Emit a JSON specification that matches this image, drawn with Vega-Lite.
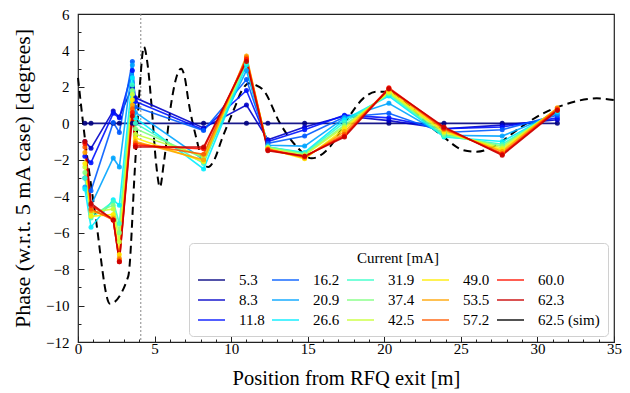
{
  "$schema": "https://vega.github.io/schema/vega-lite/v6.json",
  "width": 536,
  "height": 328,
  "autosize": "none",
  "padding": {"left": 78, "top": 14, "right": 16, "bottom": 51},
  "background": "white",
  "config": {
    "font": "Liberation Serif",
    "view": {"stroke": "#222222", "strokeWidth": 1.2},
    "axis": {"grid": false, "domain": false, "labelColor": "black", "titleColor": "black", "tickColor": "#222222", "titleFontSize": 20.5, "titleFontWeight": "normal", "labelOverlap": false, "labelFlush": false}
  },
  "datasets": {
    "sim": [
      {"c": "62.5 (sim)", "x": 0.0, "y": 2.5}, {"c": "62.5 (sim)", "x": 0.46, "y": -0.9}, {"c": "62.5 (sim)", "x": 1.11, "y": -4.9},
      {"c": "62.5 (sim)", "x": 2.09, "y": -9.9}, {"c": "62.5 (sim)", "x": 3.28, "y": -8.4}, {"c": "62.5 (sim)", "x": 3.72, "y": -2.4},
      {"c": "62.5 (sim)", "x": 4.05, "y": 2.2}, {"c": "62.5 (sim)", "x": 4.3, "y": 4.2}, {"c": "62.5 (sim)", "x": 4.55, "y": 3.2},
      {"c": "62.5 (sim)", "x": 4.81, "y": 0.9}, {"c": "62.5 (sim)", "x": 5.1, "y": -2.2}, {"c": "62.5 (sim)", "x": 5.35, "y": -3.5},
      {"c": "62.5 (sim)", "x": 5.6, "y": -2.2}, {"c": "62.5 (sim)", "x": 6.12, "y": 1.28}, {"c": "62.5 (sim)", "x": 6.45, "y": 2.6},
      {"c": "62.5 (sim)", "x": 6.73, "y": 3.0}, {"c": "62.5 (sim)", "x": 7.0, "y": 2.4}, {"c": "62.5 (sim)", "x": 7.2, "y": 1.28},
      {"c": "62.5 (sim)", "x": 7.75, "y": -0.9}, {"c": "62.5 (sim)", "x": 8.1, "y": -2.0}, {"c": "62.5 (sim)", "x": 8.51, "y": -2.4},
      {"c": "62.5 (sim)", "x": 8.9, "y": -2.0}, {"c": "62.5 (sim)", "x": 9.38, "y": -0.9}, {"c": "62.5 (sim)", "x": 10.25, "y": 0.9},
      {"c": "62.5 (sim)", "x": 10.7, "y": 1.8}, {"c": "62.5 (sim)", "x": 11.17, "y": 2.2}, {"c": "62.5 (sim)", "x": 11.6, "y": 2.1},
      {"c": "62.5 (sim)", "x": 12.1, "y": 1.83}, {"c": "62.5 (sim)", "x": 13.19, "y": 0.0}, {"c": "62.5 (sim)", "x": 14.28, "y": -1.28},
      {"c": "62.5 (sim)", "x": 15.26, "y": -1.92}, {"c": "62.5 (sim)", "x": 16.46, "y": -1.28}, {"c": "62.5 (sim)", "x": 17.55, "y": 0.18},
      {"c": "62.5 (sim)", "x": 18.63, "y": 1.37}, {"c": "62.5 (sim)", "x": 19.5, "y": 1.74}, {"c": "62.5 (sim)", "x": 20.26, "y": 1.74},
      {"c": "62.5 (sim)", "x": 21.24, "y": 1.28}, {"c": "62.5 (sim)", "x": 22.55, "y": 0.18}, {"c": "62.5 (sim)", "x": 23.85, "y": -0.73},
      {"c": "62.5 (sim)", "x": 25.16, "y": -1.47}, {"c": "62.5 (sim)", "x": 26.03, "y": -1.56}, {"c": "62.5 (sim)", "x": 27.34, "y": -1.19},
      {"c": "62.5 (sim)", "x": 28.65, "y": -0.37}, {"c": "62.5 (sim)", "x": 30.38, "y": 0.55}, {"c": "62.5 (sim)", "x": 31.69, "y": 1.0},
      {"c": "62.5 (sim)", "x": 33.87, "y": 1.37}, {"c": "62.5 (sim)", "x": 35.0, "y": 1.28}
    ],
    "meas": [
      {"c": "5.3", "x": 0.45, "y": 0}, {"c": "5.3", "x": 0.85, "y": 0}, {"c": "5.3", "x": 2.3, "y": 0}, {"c": "5.3", "x": 2.7, "y": 0}, {"c": "5.3", "x": 3.55, "y": 0}, {"c": "5.3", "x": 3.75, "y": 0}, {"c": "5.3", "x": 8.2, "y": 0}, {"c": "5.3", "x": 11.0, "y": 0}, {"c": "5.3", "x": 12.4, "y": 0}, {"c": "5.3", "x": 14.8, "y": 0}, {"c": "5.3", "x": 17.4, "y": 0}, {"c": "5.3", "x": 20.3, "y": 0}, {"c": "5.3", "x": 23.9, "y": 0}, {"c": "5.3", "x": 27.7, "y": 0}, {"c": "5.3", "x": 31.3, "y": 0},
      {"c": "8.3", "x": 0.45, "y": -1.0}, {"c": "8.3", "x": 0.85, "y": -1.37}, {"c": "8.3", "x": 2.3, "y": 0.68}, {"c": "8.3", "x": 2.7, "y": 0.35}, {"c": "8.3", "x": 3.55, "y": 2.0}, {"c": "8.3", "x": 3.75, "y": 1.4}, {"c": "8.3", "x": 8.2, "y": -0.25}, {"c": "8.3", "x": 11.0, "y": 1.0}, {"c": "8.3", "x": 12.4, "y": -0.9}, {"c": "8.3", "x": 14.8, "y": -0.2}, {"c": "8.3", "x": 17.4, "y": 0.4}, {"c": "8.3", "x": 20.3, "y": 0.15}, {"c": "8.3", "x": 23.9, "y": -0.3}, {"c": "8.3", "x": 27.7, "y": -0.1}, {"c": "8.3", "x": 31.3, "y": 0.2},
      {"c": "11.8", "x": 0.45, "y": -1.8}, {"c": "11.8", "x": 0.85, "y": -2.16}, {"c": "11.8", "x": 2.3, "y": 0.55}, {"c": "11.8", "x": 2.7, "y": 0.3}, {"c": "11.8", "x": 3.55, "y": 2.9}, {"c": "11.8", "x": 3.75, "y": 1.2}, {"c": "11.8", "x": 8.2, "y": -0.35}, {"c": "11.8", "x": 11.0, "y": 1.8}, {"c": "11.8", "x": 12.4, "y": -1.0}, {"c": "11.8", "x": 14.8, "y": -0.35}, {"c": "11.8", "x": 17.4, "y": 0.45}, {"c": "11.8", "x": 20.3, "y": 0.3}, {"c": "11.8", "x": 23.9, "y": -0.3}, {"c": "11.8", "x": 27.7, "y": -0.2}, {"c": "11.8", "x": 31.3, "y": 0.3},
      {"c": "16.2", "x": 0.45, "y": -3.0}, {"c": "16.2", "x": 0.85, "y": -3.7}, {"c": "16.2", "x": 2.3, "y": 0.05}, {"c": "16.2", "x": 2.7, "y": -0.5}, {"c": "16.2", "x": 3.55, "y": 3.4}, {"c": "16.2", "x": 3.75, "y": 0.9}, {"c": "16.2", "x": 8.2, "y": -0.4}, {"c": "16.2", "x": 11.0, "y": 2.4}, {"c": "16.2", "x": 12.4, "y": -1.1}, {"c": "16.2", "x": 14.8, "y": -0.7}, {"c": "16.2", "x": 17.4, "y": 0.35}, {"c": "16.2", "x": 20.3, "y": 0.55}, {"c": "16.2", "x": 23.9, "y": -0.5}, {"c": "16.2", "x": 27.7, "y": -0.35}, {"c": "16.2", "x": 31.3, "y": 0.45},
      {"c": "20.9", "x": 0.45, "y": -3.5}, {"c": "20.9", "x": 0.85, "y": -4.5}, {"c": "20.9", "x": 2.3, "y": -1.9}, {"c": "20.9", "x": 2.7, "y": -2.4}, {"c": "20.9", "x": 3.55, "y": 3.2}, {"c": "20.9", "x": 3.75, "y": 0.6}, {"c": "20.9", "x": 8.2, "y": -2.0}, {"c": "20.9", "x": 11.0, "y": 2.9}, {"c": "20.9", "x": 12.4, "y": -1.2}, {"c": "20.9", "x": 14.8, "y": -1.25}, {"c": "20.9", "x": 17.4, "y": 0.3}, {"c": "20.9", "x": 20.3, "y": 1.1}, {"c": "20.9", "x": 23.9, "y": -0.65}, {"c": "20.9", "x": 27.7, "y": -0.7}, {"c": "20.9", "x": 31.3, "y": 0.55},
      {"c": "26.6", "x": 0.45, "y": -3.6}, {"c": "26.6", "x": 0.85, "y": -5.7}, {"c": "26.6", "x": 2.3, "y": -4.2}, {"c": "26.6", "x": 2.7, "y": -4.5}, {"c": "26.6", "x": 3.55, "y": 2.5}, {"c": "26.6", "x": 3.75, "y": 0.3}, {"c": "26.6", "x": 8.2, "y": -2.5}, {"c": "26.6", "x": 11.0, "y": 3.2}, {"c": "26.6", "x": 12.4, "y": -1.3}, {"c": "26.6", "x": 14.8, "y": -1.6}, {"c": "26.6", "x": 17.4, "y": 0.2}, {"c": "26.6", "x": 20.3, "y": 1.5}, {"c": "26.6", "x": 23.9, "y": -0.75}, {"c": "26.6", "x": 27.7, "y": -1.0}, {"c": "26.6", "x": 31.3, "y": 0.65},
      {"c": "31.9", "x": 0.45, "y": -3.0}, {"c": "31.9", "x": 0.85, "y": -5.2}, {"c": "31.9", "x": 2.3, "y": -4.3}, {"c": "31.9", "x": 2.7, "y": -5.5}, {"c": "31.9", "x": 3.55, "y": 2.1}, {"c": "31.9", "x": 3.75, "y": 0.0}, {"c": "31.9", "x": 8.2, "y": -2.2}, {"c": "31.9", "x": 11.0, "y": 3.3}, {"c": "31.9", "x": 12.4, "y": -1.3}, {"c": "31.9", "x": 14.8, "y": -1.65}, {"c": "31.9", "x": 17.4, "y": 0.05}, {"c": "31.9", "x": 20.3, "y": 1.6}, {"c": "31.9", "x": 23.9, "y": -0.7}, {"c": "31.9", "x": 27.7, "y": -1.15}, {"c": "31.9", "x": 31.3, "y": 0.7},
      {"c": "37.4", "x": 0.45, "y": -2.7}, {"c": "37.4", "x": 0.85, "y": -5.0}, {"c": "37.4", "x": 2.3, "y": -4.5}, {"c": "37.4", "x": 2.7, "y": -6.0}, {"c": "37.4", "x": 3.55, "y": 1.8}, {"c": "37.4", "x": 3.75, "y": -0.3}, {"c": "37.4", "x": 8.2, "y": -1.9}, {"c": "37.4", "x": 11.0, "y": 3.4}, {"c": "37.4", "x": 12.4, "y": -1.3}, {"c": "37.4", "x": 14.8, "y": -1.7}, {"c": "37.4", "x": 17.4, "y": -0.1}, {"c": "37.4", "x": 20.3, "y": 1.65}, {"c": "37.4", "x": 23.9, "y": -0.6}, {"c": "37.4", "x": 27.7, "y": -1.25}, {"c": "37.4", "x": 31.3, "y": 0.75},
      {"c": "42.5", "x": 0.45, "y": -2.4}, {"c": "42.5", "x": 0.85, "y": -4.9}, {"c": "42.5", "x": 2.3, "y": -4.7}, {"c": "42.5", "x": 2.7, "y": -6.5}, {"c": "42.5", "x": 3.55, "y": 1.6}, {"c": "42.5", "x": 3.75, "y": -0.6}, {"c": "42.5", "x": 8.2, "y": -1.8}, {"c": "42.5", "x": 11.0, "y": 3.5}, {"c": "42.5", "x": 12.4, "y": -1.35}, {"c": "42.5", "x": 14.8, "y": -1.75}, {"c": "42.5", "x": 17.4, "y": -0.2}, {"c": "42.5", "x": 20.3, "y": 1.7}, {"c": "42.5", "x": 23.9, "y": -0.5}, {"c": "42.5", "x": 27.7, "y": -1.35}, {"c": "42.5", "x": 31.3, "y": 0.8},
      {"c": "49.0", "x": 0.45, "y": -2.2}, {"c": "49.0", "x": 0.85, "y": -5.1}, {"c": "49.0", "x": 2.3, "y": -5.0}, {"c": "49.0", "x": 2.7, "y": -7.2}, {"c": "49.0", "x": 3.55, "y": 1.3}, {"c": "49.0", "x": 3.75, "y": -0.8}, {"c": "49.0", "x": 8.2, "y": -2.1}, {"c": "49.0", "x": 11.0, "y": 3.6}, {"c": "49.0", "x": 12.4, "y": -1.4}, {"c": "49.0", "x": 14.8, "y": -1.95}, {"c": "49.0", "x": 17.4, "y": -0.3}, {"c": "49.0", "x": 20.3, "y": 1.75}, {"c": "49.0", "x": 23.9, "y": -0.45}, {"c": "49.0", "x": 27.7, "y": -1.45}, {"c": "49.0", "x": 31.3, "y": 0.8},
      {"c": "53.5", "x": 0.45, "y": -1.6}, {"c": "53.5", "x": 0.85, "y": -4.8}, {"c": "53.5", "x": 2.3, "y": -5.2}, {"c": "53.5", "x": 2.7, "y": -7.4}, {"c": "53.5", "x": 3.55, "y": 1.0}, {"c": "53.5", "x": 3.75, "y": -1.0}, {"c": "53.5", "x": 8.2, "y": -2.0}, {"c": "53.5", "x": 11.0, "y": 3.7}, {"c": "53.5", "x": 12.4, "y": -1.4}, {"c": "53.5", "x": 14.8, "y": -1.9}, {"c": "53.5", "x": 17.4, "y": -0.45}, {"c": "53.5", "x": 20.3, "y": 1.85}, {"c": "53.5", "x": 23.9, "y": -0.35}, {"c": "53.5", "x": 27.7, "y": -1.55}, {"c": "53.5", "x": 31.3, "y": 0.85},
      {"c": "57.2", "x": 0.45, "y": -1.3}, {"c": "57.2", "x": 0.85, "y": -4.7}, {"c": "57.2", "x": 2.3, "y": -5.3}, {"c": "57.2", "x": 2.7, "y": -7.5}, {"c": "57.2", "x": 3.55, "y": 0.8}, {"c": "57.2", "x": 3.75, "y": -1.1}, {"c": "57.2", "x": 8.2, "y": -1.7}, {"c": "57.2", "x": 11.0, "y": 3.6}, {"c": "57.2", "x": 12.4, "y": -1.45}, {"c": "57.2", "x": 14.8, "y": -1.85}, {"c": "57.2", "x": 17.4, "y": -0.6}, {"c": "57.2", "x": 20.3, "y": 1.9}, {"c": "57.2", "x": 23.9, "y": -0.3}, {"c": "57.2", "x": 27.7, "y": -1.65}, {"c": "57.2", "x": 31.3, "y": 0.8},
      {"c": "60.0", "x": 0.45, "y": -1.1}, {"c": "60.0", "x": 0.85, "y": -4.5}, {"c": "60.0", "x": 2.3, "y": -5.3}, {"c": "60.0", "x": 2.7, "y": -7.6}, {"c": "60.0", "x": 3.55, "y": 0.6}, {"c": "60.0", "x": 3.75, "y": -1.2}, {"c": "60.0", "x": 8.2, "y": -1.4}, {"c": "60.0", "x": 11.0, "y": 3.5}, {"c": "60.0", "x": 12.4, "y": -1.45}, {"c": "60.0", "x": 14.8, "y": -1.8}, {"c": "60.0", "x": 17.4, "y": -0.7}, {"c": "60.0", "x": 20.3, "y": 1.95}, {"c": "60.0", "x": 23.9, "y": -0.25}, {"c": "60.0", "x": 27.7, "y": -1.7}, {"c": "60.0", "x": 31.3, "y": 0.75},
      {"c": "62.3", "x": 0.45, "y": -1.0}, {"c": "62.3", "x": 0.85, "y": -4.4}, {"c": "62.3", "x": 2.3, "y": -5.3}, {"c": "62.3", "x": 2.7, "y": -7.6}, {"c": "62.3", "x": 3.55, "y": 0.4}, {"c": "62.3", "x": 3.75, "y": -1.3}, {"c": "62.3", "x": 8.2, "y": -1.3}, {"c": "62.3", "x": 11.0, "y": 3.4}, {"c": "62.3", "x": 12.4, "y": -1.5}, {"c": "62.3", "x": 14.8, "y": -1.8}, {"c": "62.3", "x": 17.4, "y": -0.75}, {"c": "62.3", "x": 20.3, "y": 1.9}, {"c": "62.3", "x": 23.9, "y": -0.2}, {"c": "62.3", "x": 27.7, "y": -1.75}, {"c": "62.3", "x": 31.3, "y": 0.7}
    ]
  },
  "layer": [
    {
      "data": {"values": [{"x": 4.1}]},
      "mark": {"type": "rule", "strokeDash": [2, 2], "color": "#888888", "strokeWidth": 1},
      "encoding": {"x": {"field": "x", "type": "quantitative"}}
    },
    {
      "data": {"name": "sim"},
      "mark": {"type": "line", "strokeDash": [8, 5], "strokeWidth": 2, "interpolate": "monotone"},
      "encoding": {
        "x": {"field": "x", "type": "quantitative"},
        "y": {"field": "y", "type": "quantitative"},
        "color": {"field": "c", "type": "nominal"}
      }
    },
    {
      "data": {"name": "meas"},
      "mark": {"type": "line", "strokeWidth": 1.6, "opacity": 0.9, "point": {"filled": true, "size": 25, "opacity": 0.9}},
      "encoding": {
        "x": {
          "field": "x", "type": "quantitative",
          "scale": {"domain": [0, 35], "nice": false, "zero": false},
          "axis": {
            "title": "Position from RFQ exit [m]",
            "values": [0,1,2,3,4,5,6,7,8,9,10,11,12,13,14,15,16,17,18,19,20,21,22,23,24,25,26,27,28,29,30,31,32,33,34,35],
            "tickCount": 100,
            "format": "d",
            "labelExpr": "datum.value % 5 === 0 ? datum.label : ''",
            "labelFontSize": {"condition": {"test": "datum.value % 5 === 0", "value": 15}, "value": 0},
            "labelOverlap": false,
            "labelSeparation": 0,
            "tickSize": {"condition": {"test": "datum.value % 5 === 0", "value": -6}, "value": -3},
            "labelPadding": 5,
            "titlePadding": 12
          }
        },
        "y": {
          "field": "y", "type": "quantitative",
          "scale": {"domain": [-12, 6], "nice": false, "zero": false},
          "axis": {
            "title": "Phase (w.r.t. 5 mA case) [degrees]",
            "titleFontSize": 22,
            "values": [-12,-11.5,-11,-10.5,-10,-9.5,-9,-8.5,-8,-7.5,-7,-6.5,-6,-5.5,-5,-4.5,-4,-3.5,-3,-2.5,-2,-1.5,-1,-0.5,0,0.5,1,1.5,2,2.5,3,3.5,4,4.5,5,5.5,6],
            "tickCount": 100,
            "format": "d",
            "labelExpr": "datum.value % 2 === 0 ? datum.label : ''",
            "labelFontSize": {"condition": {"test": "datum.value % 2 === 0", "value": 15}, "value": 0},
            "labelOverlap": false,
            "labelSeparation": 0,
            "tickSize": {"condition": {"test": "datum.value % 2 === 0", "value": -6}, "value": -3},
            "labelPadding": 15,
            "titlePadding": 11
          }
        },
        "color": {
          "field": "c", "type": "nominal",
          "scale": {
            "domain": ["5.3","8.3","11.8","16.2","20.9","26.6","31.9","37.4","42.5","49.0","53.5","57.2","60.0","62.3","62.5 (sim)"],
            "range": ["#000080","#0000C8","#0012FF","#005BFF","#00A4FF","#00EDFF","#37FFC8","#80FF80","#C8FF37","#FFED00","#FFA400","#FF5B00","#FF1200","#C80000","#000000"]
          },
          "legend": {
            "title": "Current [mA]",
            "orient": "bottom-right",
            "offset": 6,
            "columns": 5,
            "columnPadding": 4,
            "rowPadding": 2,
            "symbolType": "M-1,0H2",
            "symbolSize": 324,
            "symbolStrokeWidth": 1.5,
            "labelFontSize": 15,
            "labelOffset": 22,
            "titleFontSize": 15,
            "titleFontWeight": "normal",
            "titleAnchor": "middle",
            "titlePadding": 4,
            "fillColor": "white",
            "strokeColor": "#d0d0d0",
            "cornerRadius": 4,
            "padding": 8,
            "encode": {
              "symbols": {
                "update": {
                  "shape": {"signal": "datum.value === '62.5 (sim)' ? 'M-1,0H2' : 'M-1,0H2M0.33,0A0.17,0.17,0,1,0,0.67,0A0.17,0.17,0,1,0,0.33,0'"},
                  "strokeDash": {"signal": "datum.value === '62.5 (sim)' ? [5,3] : [1,0]"},
                  "fill": {"scale": "color", "field": "value"},
                  "stroke": {"scale": "color", "field": "value"}
                }
              }
            }
          }
        }
      }
    }
  ]
}
